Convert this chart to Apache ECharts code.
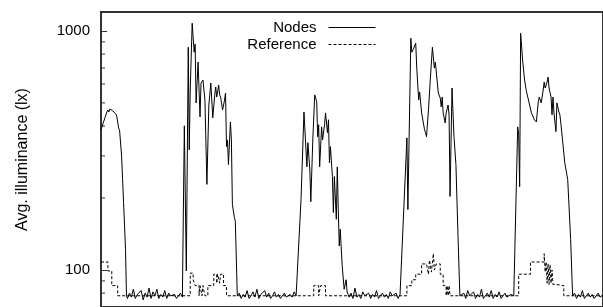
<!DOCTYPE html>
<html>
<head>
<meta charset="utf-8">
<script src="https://cdn.jsdelivr.net/npm/echarts@6.0.0/dist/echarts.min.js"></script>
<style>
  html, body { margin: 0; padding: 0; background: #fff; }
  #chart { width: 603px; height: 307px; }
</style>
</head>
<body>
<div id="chart"></div>
<script>
// sample index (x) and average illuminance in lx (y)
const nodes = [
  // day 1 (tail)
  [0,385],[2,409],[4,433],[6,458],[7,467],[8,458],[9,471],[10,463],[11,471],[12,463],[13,467],[14,458],[15,450],[16,441],[17,416],[18,393],[19,382],[21,300],[22,241],[23,192],[24,154],[25,122],[26,78],
  // night 1
  [27,76],[29,80],[31,77],[33,83],[35,76],[37,79],[39,78],[41,82],[43,75],[45,80],[47,77],[49,84],[51,76],[53,81],[55,78],[57,83],[59,76],[61,79],[63,77],[65,82],[67,76],[69,80],[71,78],[73,77],[75,79],[77,76],[79,78],[81,80],[83,77],
  // day 2
  [85,401],[86,401],[87,99],[89,855],[90,318],[91,566],[93,1077],[95,815],[96,880],[97,500],[99,741],[101,437],[102,605],[104,623],[106,514],[108,228],[110,490],[112,605],[113,514],[114,433],[116,540],[117,583],[118,529],[120,594],[121,540],[122,529],[124,467],[126,514],[127,550],[128,328],[129,350],[130,276],[132,416],[133,350],[134,188],[136,166],[137,160],[139,78],
  // night 2
  [141,80],[143,76],[145,79],[147,77],[149,82],[151,76],[153,78],[155,81],[157,77],[159,83],[161,76],[163,79],[165,78],[167,82],[169,77],[171,80],[173,76],[175,78],[177,81],[179,77],[181,79],[183,76],[185,78],[187,80],[189,77],[191,76],[193,79],[195,77],[197,81],[199,78],[201,77],
  // day 3
  [204,197],[207,458],[210,270],[211,341],[213,263],[214,193],[216,350],[218,540],[220,505],[221,361],[222,405],[223,270],[225,397],[226,350],[228,405],[229,454],[231,375],[232,425],[233,281],[234,328],[236,246],[237,174],[238,246],[240,163],[241,270],[242,179],[243,126],[244,148],[246,104],[248,83],[250,91],[251,81],
  // night 3
  [253,77],[255,80],[257,76],[259,84],[261,77],[263,79],[265,76],[267,81],[269,78],[271,77],[273,80],[275,76],[277,79],[279,77],[281,82],[283,76],[285,78],[287,80],[289,77],[291,79],[293,76],[295,81],[297,78],[299,77],[301,80],[303,76],[305,79],[307,78],
  // day 4
  [312,357],[313,179],[316,932],[317,815],[319,847],[321,889],[322,706],[324,514],[325,556],[327,454],[330,386],[331,375],[332,361],[334,467],[336,641],[338,855],[340,699],[341,741],[344,550],[346,524],[347,481],[348,529],[349,454],[351,412],[352,454],[354,490],[355,445],[356,203],[358,577],[360,361],[362,276],[364,144],[366,78],
  // night 4
  [368,77],[370,80],[372,76],[374,82],[376,78],[378,77],[380,81],[382,76],[384,79],[386,77],[388,83],[390,76],[392,78],[394,80],[396,77],[398,82],[400,76],[402,79],[404,77],[406,81],[408,76],[410,78],[412,80],[414,77],[416,76],[418,79],[421,78],
  // day 5
  [425,397],[426,368],[427,223],[428,978],[430,755],[432,623],[434,556],[436,514],[439,454],[442,425],[444,416],[446,505],[447,529],[449,500],[451,566],[452,611],[453,577],[455,611],[456,641],[457,577],[459,529],[460,446],[461,529],[462,454],[464,379],[465,500],[467,458],[468,446],[469,412],[471,340],[473,281],[476,239],[479,134],[481,78],
  // night 5
  [483,80],[485,76],[487,79],[489,77],[491,82],[493,76],[495,78],[497,80],[499,77],[501,79],[503,76],[505,78],[507,80],[509,77],[511,78]
];

// reference sensor, stepwise
const reference = [
  [0,108],[7,99],[11,86],[17,78],
  [91,97],[94,91],[96,86],[100,78],[101,86],[103,78],[104,86],[106,78],[109,86],[115,96],[118,88],[119,96],[121,88],[122,96],[125,86],[128,78],
  [217,86],[222,78],[224,86],[229,78],
  [312,86],[317,91],[321,96],[327,106],[332,108],[334,96],[335,110],[337,98],[339,117],[340,100],[342,106],[346,96],[349,86],[352,78],[353,86],[354,78],[355,86],[356,78],
  [426,96],[438,108],[452,117],[453,98],[454,108],[455,88],[456,106],[457,87],[458,105],[459,88],[460,100],[461,87],[464,86],[472,78],[512,78]
];

const minorTicks = [80, 90, 200, 300, 400, 500, 600, 700, 800, 900];
const majorLabels = [100, 1000];

const font = 'Liberation Sans, Arial, Helvetica, sans-serif';
const chart = echarts.init(document.getElementById('chart'));

function legendFor(name, top) {
  return {
    data: [name], right: 222, top: top, align: 'right',
    itemWidth: 47, itemHeight: 14,
    itemStyle: { opacity: 0 },
    lineStyle: { width: 1 },
    textStyle: { fontFamily: font, fontSize: 15, color: '#000', padding: [0, 7, 0, 0] }
  };
}

chart.setOption({
  animation: false,
  grid: {
    left: 101, top: 12, right: -10, height: 296,
    show: true, borderColor: '#333', borderWidth: 2, backgroundColor: 'transparent'
  },
  legend: [legendFor('Nodes', 15), legendFor('Reference', 32)],
  xAxis: {
    type: 'value', min: 0, max: 512, show: false
  },
  yAxis: {
    type: 'log', min: 70, max: 1200, logBase: 10,
    name: 'Avg. illuminance (lx)', nameLocation: 'middle', nameGap: 70,
    nameTextStyle: { fontFamily: font, fontSize: 16, color: '#000' },
    axisLine: { show: false },
    axisTick: { inside: true, length: 6, lineStyle: { color: '#333', width: 1 } },
    splitLine: { show: false },
    axisLabel: {
      margin: 11, fontFamily: font, fontSize: 15, color: '#000',
      formatter: function (v) {
        const r = Math.round(v);
        return majorLabels.indexOf(r) >= 0 ? String(r) : '';
      }
    }
  },
  series: [
    {
      name: 'Nodes', type: 'line', data: nodes, symbol: 'none',
      lineStyle: { color: '#000', width: 1 }, itemStyle: { color: '#000' }
    },
    {
      name: 'Reference', type: 'line', data: reference, symbol: 'none', step: 'end',
      lineStyle: { color: '#000', width: 1, type: [3, 2] }, itemStyle: { color: '#000' }
    },
    {
      // minor ticks of the log axis
      type: 'custom', silent: true, data: minorTicks.map(function (v) { return [0, v]; }),
      renderItem: function (params, api) {
        const p = api.coord([0, api.value(1)]);
        return {
          type: 'line',
          shape: { x1: p[0], y1: p[1], x2: p[0] + 4, y2: p[1] },
          style: { stroke: '#333', lineWidth: 1 }
        };
      }
    }
  ]
});
</script>
</body>
</html>
